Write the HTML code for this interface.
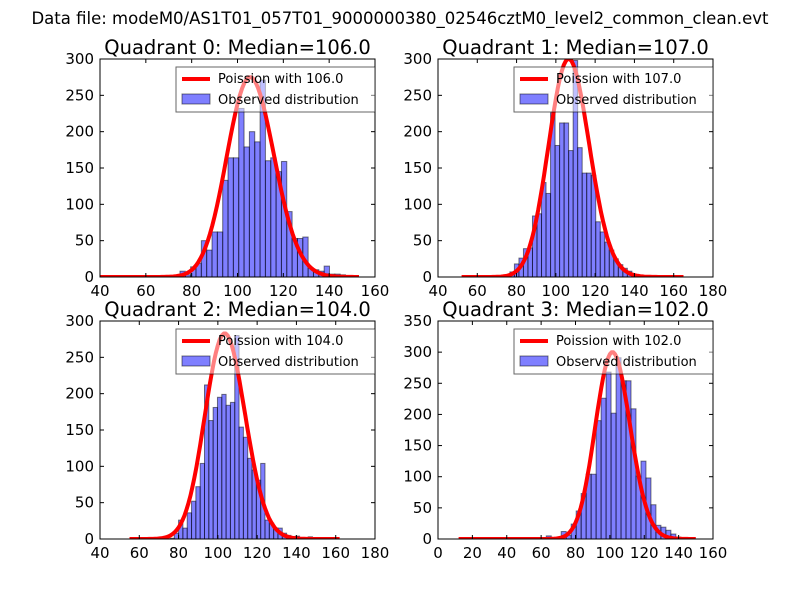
<!DOCTYPE html>
<html><head><meta charset="utf-8"><style>
body{margin:0;background:#fff;}
svg text{font-family:"DejaVu Sans","Liberation Sans",sans-serif;}
</style></head><body>
<svg id="fig" width="800" height="600" xmlns="http://www.w3.org/2000/svg">
<rect width="800" height="600" fill="#fff"/>
<text x="400" y="24" text-anchor="middle" font-size="16.5">Data file: modeM0/AS1T01_057T01_9000000380_02546cztM0_level2_common_clean.evt</text>
</svg>
<script>
const q0Counts=[8,3,14,19,50,37,62,62,133,164,164,232,179,200,186,271,160,164,145,159,90,53,53,55,12,10,8,15,4,4,3];
const q1Counts=[2,3,7,18,26,39,40,84,87,130,115,226,181,212,212,174,298,178,143,143,140,76,62,48,37,25,17,12,8,3,0,2,1];
const q2Counts=[1,8,26,15,36,52,72,104,212,163,181,195,199,184,188,280,154,140,111,95,81,104,26,22,15,15,8,5,3,4,2,0,3,1];
const q3Counts=[5,2,0,12,6,24,45,73,104,104,190,226,268,202,291,254,254,209,101,125,98,55,22,19,14,8,3,2];
const binStarts=[74.9,72,75.6,63];
const binWidths=[2.33,2.3,2.2,2.9];
const medians=[106,107,104,102];
const curveScale=[7100,7780,7234,7594];
const curveRange=[[40,153],[52,165],[55,162],[12,150]];
const xTicks=[[40,60,80,100,120,140,160],[40,60,80,100,120,140,160,180],[40,60,80,100,120,140,160,180],[0,20,40,60,80,100,120,140,160]];
const yTicks=[[0,50,100,150,200,250,300],[0,50,100,150,200,250,300],[0,50,100,150,200,250,300],[0,50,100,150,200,250,300,350]];
const xDomains=[[40,160],[40,180],[40,180],[0,160]];
const yMax=[300,300,300,350];
const allCounts=[q0Counts,q1Counts,q2Counts,q3Counts];
const boxes=[[100,59],[438,59],[100,321],[438,321]];
const W=275,H=218;
const NS="http://www.w3.org/2000/svg";
const svg=document.getElementById('fig');
function mk(tag,attrs,parent){const e=document.createElementNS(NS,tag);for(const k in attrs)e.setAttribute(k,attrs[k]);(parent||svg).appendChild(e);return e;}
function logPois(k,l){let lg=0;for(let i=2;i<=k;i++)lg+=Math.log(i);return k*Math.log(l)-l-lg;}
for(let p=0;p<4;p++){
  const [bx,by]=boxes[p];
  const g=mk('g',{});
  
  
  const xs=v=>bx+(v-xDomains[p][0])/(xDomains[p][1]-xDomains[p][0])*W;
  const ys=v=>by+H-v/yMax[p]*H;
  const clip=mk('clipPath',{id:'c'+p},g);mk('rect',{x:bx,y:by,width:W,height:H},clip);
  const plot=mk('g',{'clip-path':'url(#c'+p+')'},g);
  allCounts[p].forEach((n,i)=>{
    const x0=binStarts[p]+i*binWidths[p];
    const r=mk('rect',{x:xs(x0),y:ys(n),width:xs(x0+binWidths[p])-xs(x0),height:ys(0)-ys(n),fill:'rgba(0,0,255,0.5)',stroke:'rgba(0,0,0,0.5)','stroke-width':1},plot);
    
    
  });
  let d='';const [a,b]=curveRange[p];
  for(let k=a;k<=b;k++){const v=curveScale[p]*Math.exp(logPois(k,medians[p]));d+=(k===a?'M':'L')+xs(k).toFixed(1)+','+ys(v).toFixed(1);}
  const c=mk('path',{d:d,fill:'none',stroke:'#ff0000','stroke-width':4,'stroke-linejoin':'round'},plot);
  
  
  mk('rect',{x:bx,y:by,width:W,height:H,fill:'none',stroke:'#000','stroke-width':1},g);
  xTicks[p].forEach(t=>{const x=xs(t);
    mk('line',{x1:x,x2:x,y1:by+H,y2:by+H-4,stroke:'#000'},g);mk('line',{x1:x,x2:x,y1:by,y2:by+4,stroke:'#000'},g);
    const tx=mk('text',{x:x,y:by+H+19,'text-anchor':'middle','font-size':15},g);tx.textContent=t;
    
    });
  yTicks[p].forEach(t=>{const y=ys(t);
    mk('line',{x1:bx,x2:bx+4,y1:y,y2:y,stroke:'#000'},g);mk('line',{x1:bx+W,x2:bx+W-4,y1:y,y2:y,stroke:'#000'},g);
    const tx=mk('text',{x:bx-6,y:y+5,'text-anchor':'end','font-size':15},g);tx.textContent=t;
    
    });
  const ti=mk('text',{x:bx+W/2,y:by-5,'text-anchor':'middle','font-size':19.5},g);ti.textContent='Quadrant '+p+': Median='+medians[p].toFixed(1);
  
  
  const lg=mk('g',{},g);
  
  
  mk('rect',{x:bx+76,y:by+8,width:199,height:45,fill:'rgba(255,255,255,0.5)',stroke:'rgba(0,0,0,0.6)','stroke-width':1},lg);
  mk('line',{x1:bx+82,x2:bx+110,y1:by+20,y2:by+20,stroke:'#ff0000','stroke-width':4},lg);
  const t1=mk('text',{x:bx+118,y:by+24,'font-size':13},lg);t1.textContent='Poission with '+medians[p].toFixed(1);
  mk('rect',{x:bx+82,y:by+35,width:28,height:10,fill:'rgba(0,0,255,0.5)',stroke:'rgba(0,0,0,0.5)'},lg);
  const t2=mk('text',{x:bx+118,y:by+45,'font-size':13},lg);t2.textContent='Observed distribution';
}
</script>
</body></html>
